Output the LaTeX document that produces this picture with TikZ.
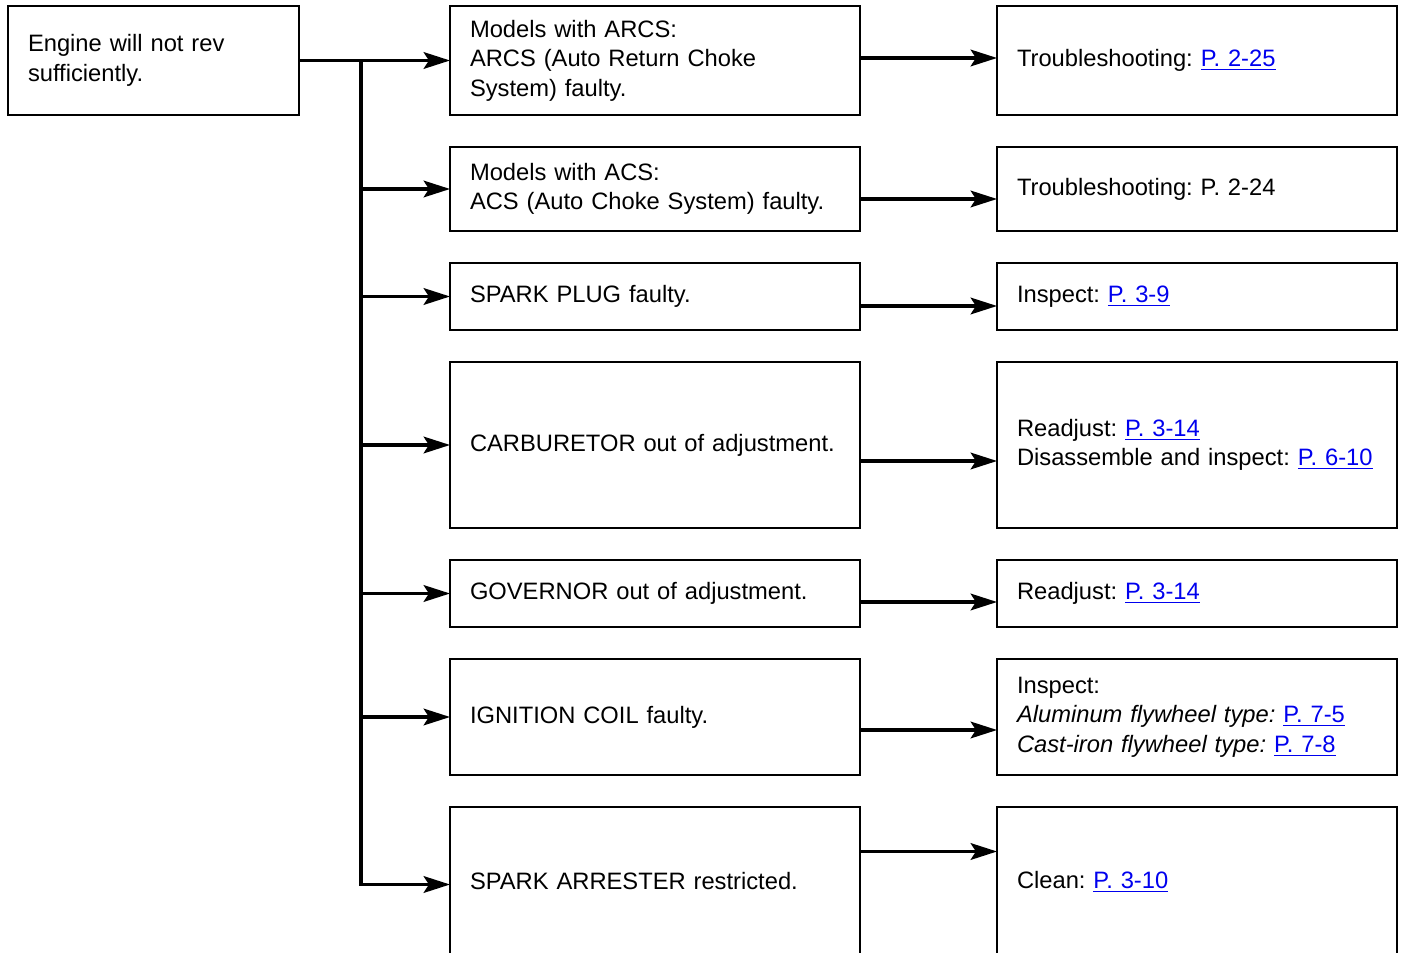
\documentclass[tikz,border=0pt]{standalone}
\usepackage{fontspec}
\setmainfont{Liberation Sans}
\usepackage{xcolor}
\usetikzlibrary{arrows.meta,positioning}
\definecolor{linkblue}{HTML}{0000EE}
\newcommand{\pg}[1]{\textcolor{linkblue}{\underline{#1}}}
\frenchspacing
\tikzset{
  cause/.style={draw,line width=1.1pt,rectangle,align=left,font=\fontsize{13.5}{16.8}\selectfont,text width=7.4cm,inner xsep=0.4cm,inner ysep=0pt,outer sep=0pt},
  remedy/.style={cause,text width=7.2cm},
  flow/.style={-{Stealth[length=15pt,width=9.5pt,inset=3pt]},line width=1.8pt},
}

\begin{document}
\begin{tikzpicture}
  \path[use as bounding box,clip] (0,0) rectangle (28.06,-19.06);
  % causes
  \node[cause,minimum height=2.18cm,anchor=north west] (m1) at (9.0,-0.12) {Models with ARCS:\\ARCS (Auto Return Choke\\System) faulty.};
  \node[cause,minimum height=1.68cm,below=0.64cm of m1] (m2) {Models with ACS:\\ACS (Auto Choke System) faulty.};
  \node[cause,minimum height=1.34cm,below=0.64cm of m2] (m3) {SPARK PLUG faulty.};
  \node[cause,minimum height=3.32cm,below=0.64cm of m3] (m4) {CARBURETOR out of adjustment.};
  \node[cause,minimum height=1.34cm,below=0.64cm of m4] (m5) {GOVERNOR out of adjustment.};
  \node[cause,minimum height=2.32cm,below=0.64cm of m5] (m6) {IGNITION COIL faulty.};
  \node[cause,minimum height=2.98cm,below=0.64cm of m6] (m7) {SPARK ARRESTER restricted.};
  % symptom
  \node[cause,text width=5.02cm,minimum height=2.18cm,left=3.02cm of m1] (root) {Engine will not rev\\sufficiently.};
  % remedies
  \node[remedy,minimum height=2.18cm,right=2.74cm of m1] (r1) {Troubleshooting: \pg{P. 2-25}};
  \node[remedy,minimum height=1.68cm,right=2.74cm of m2] (r2) {Troubleshooting: P. 2-24};
  \node[remedy,minimum height=1.34cm,right=2.74cm of m3] (r3) {Inspect: \pg{P. 3-9}};
  \node[remedy,minimum height=3.32cm,right=2.74cm of m4] (r4) {Readjust: \pg{P. 3-14}\\Disassemble and inspect: \pg{P. 6-10}};
  \node[remedy,minimum height=1.34cm,right=2.74cm of m5] (r5) {Readjust: \pg{P. 3-14}};
  \node[remedy,minimum height=2.32cm,right=2.74cm of m6] (r6) {Inspect:\\\textit{Aluminum flywheel type:} \pg{P. 7-5}\\\textit{Cast-iron flywheel type:} \pg{P. 7-8}};
  \node[remedy,minimum height=2.98cm,right=2.74cm of m7] (r7) {Clean: \pg{P. 3-10}};
  % connectors
  \coordinate (split) at (7.22,0 |- root.east);
  \draw[flow] (root.east) -- (m1.west);
  \draw[flow] (split) |- ([yshift=-0.06cm]m7.west);
  \foreach \i in {2,...,6}
    \draw[flow] (split |- m\i.west) -- (m\i.west);
  \foreach \i/\d in {1/0.05,2/-0.2,3/-0.19,4/-0.32,5/-0.17,6/-0.26,7/0.6}
    \draw[flow] ([yshift=\d cm]m\i.east) -- ([yshift=\d cm]m\i.east -| r\i.west);
\end{tikzpicture}
\end{document}
